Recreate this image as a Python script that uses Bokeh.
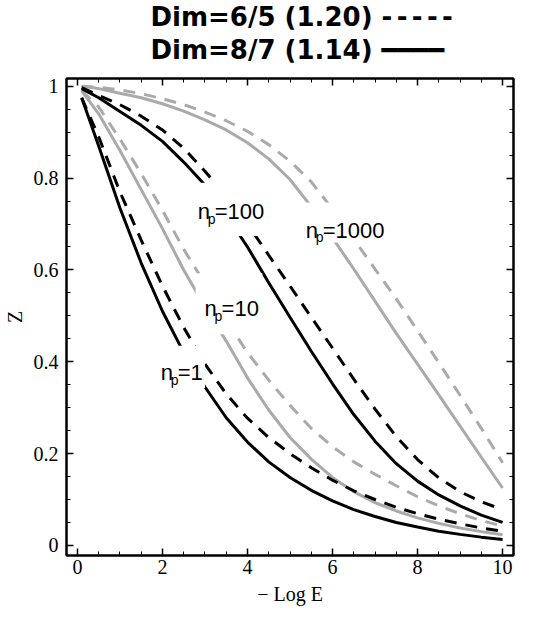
from bokeh.plotting import figure
from bokeh.models import (Range1d, LinearAxis, SingleIntervalTicker, CustomJSTickFormatter,
                          Label, BoxAnnotation, Title)
from bokeh.embed import file_html
from bokeh.resources import INLINE

# ---- data (x = -Log E, y = Z) ----
x = [0.1, 0.5, 1.0, 1.5, 2.0, 2.5, 3.0, 3.5, 4.0, 4.5, 5.0,
     5.5, 6.0, 6.5, 7.0, 7.5, 8.0, 8.5, 9.0, 9.5, 10.0]

# Dim = 8/7 (solid)
z_np1_solid = [0.975, 0.87, 0.735, 0.615, 0.51, 0.42, 0.345, 0.278, 0.225, 0.182, 0.148,
               0.12, 0.097, 0.078, 0.063, 0.05, 0.04, 0.031, 0.024, 0.018, 0.013]
z_np10_solid = [0.99, 0.94, 0.86, 0.775, 0.69, 0.6, 0.52, 0.445, 0.365, 0.295, 0.235,
                0.188, 0.148, 0.117, 0.093, 0.075, 0.06, 0.048, 0.038, 0.03, 0.023]
z_np100_solid = [0.995, 0.975, 0.945, 0.915, 0.88, 0.835, 0.785, 0.72, 0.65, 0.572, 0.497,
                 0.423, 0.352, 0.285, 0.227, 0.178, 0.14, 0.11, 0.086, 0.066, 0.05]
z_np1000_solid = [1.0, 0.995, 0.985, 0.975, 0.962, 0.946, 0.927, 0.905, 0.877, 0.842, 0.797,
                  0.738, 0.67, 0.602, 0.532, 0.462, 0.395, 0.328, 0.26, 0.192, 0.125]

# Dim = 6/5 (dashed)
z_np1_dash = [0.975, 0.89, 0.77, 0.665, 0.565, 0.475, 0.395, 0.33, 0.277, 0.235, 0.2,
              0.169, 0.142, 0.119, 0.1, 0.083, 0.069, 0.057, 0.047, 0.038, 0.031]
z_np10_dash = [0.99, 0.955, 0.885, 0.81, 0.73, 0.645, 0.57, 0.49, 0.42, 0.36, 0.305,
               0.255, 0.215, 0.182, 0.155, 0.13, 0.106, 0.086, 0.069, 0.054, 0.042]
z_np100_dash = [0.997, 0.98, 0.96, 0.935, 0.905, 0.865, 0.815, 0.76, 0.7, 0.632, 0.565,
                0.497, 0.43, 0.362, 0.297, 0.237, 0.187, 0.147, 0.117, 0.095, 0.078]
z_np1000_dash = [1.0, 0.998, 0.992, 0.984, 0.973, 0.96, 0.944, 0.925, 0.902, 0.873, 0.837,
                 0.792, 0.732, 0.667, 0.602, 0.537, 0.468, 0.398, 0.327, 0.255, 0.18]

np_labels = ["1", "10", "100", "1000"]
title_lines = ["Dim=6/5 (1.20) -\u2006-\u2006-\u2006-\u2006-", "Dim=8/7 (1.14) \u2501\u2501\u2501\u2501"]
x_axis_title = "\u2212 Log E"
y_axis_title = "Z"

BLACK = "black"
GRAY = "#aaaaaa"

p = figure(width=541, height=612, output_backend="svg", toolbar_location=None,
           x_range=Range1d(-0.257, 10.257), y_range=Range1d(-0.022, 1.017),
           x_axis_location=None, y_axis_location=None, title_location=None,
           min_border_left=63, min_border_right=28, min_border_top=78, min_border_bottom=57)
p.xgrid.visible = False
p.ygrid.visible = False
p.outline_line_color = "black"
p.outline_line_width = 2
p.background_fill_color = "white"
p.border_fill_color = "white"


def make_axis(interval, show_labels, fmt=None):
    ax = LinearAxis(ticker=SingleIntervalTicker(interval=interval, num_minor_ticks=4))
    ax.axis_line_color = "black"
    ax.axis_line_width = 2
    ax.major_tick_in = 7
    ax.major_tick_out = 0
    ax.minor_tick_in = 4
    ax.minor_tick_out = 0
    ax.major_tick_line_color = "black"
    ax.minor_tick_line_color = "black"
    ax.major_tick_line_width = 1.5
    ax.minor_tick_line_width = 1
    if show_labels:
        ax.major_label_text_font = "Liberation Serif"
        ax.major_label_text_font_size = "20px"
        ax.major_label_text_color = "black"
        ax.major_label_standoff = 8
        if fmt is not None:
            ax.formatter = fmt
    else:
        ax.major_label_text_color = None
        ax.major_label_text_font_size = "0px"
        ax.major_label_standoff = 0
    return ax


yfmt = CustomJSTickFormatter(code="return (Math.round(tick*10)/10).toString();")

xb = make_axis(2, True)
xb.major_label_standoff = 4
xb.axis_label = x_axis_title
xb.axis_label_text_font = "Liberation Serif"
xb.axis_label_text_font_size = "20px"
xb.axis_label_text_font_style = "normal"
xb.axis_label_text_color = "black"
xb.axis_label_standoff = 6
p.add_layout(xb, "below")

yl = make_axis(0.2, True, yfmt)
yl.axis_label = y_axis_title
yl.axis_label_text_font = "Liberation Serif"
yl.axis_label_text_font_size = "20px"
yl.axis_label_text_font_style = "normal"
yl.axis_label_text_color = "black"
yl.axis_label_standoff = 5
p.add_layout(yl, "left")

p.add_layout(make_axis(2, False), "above")
p.add_layout(make_axis(0.2, False), "right")

# ---- two-line title with line-style keys (later = farther from frame) ----
p.add_layout(Title(text=title_lines[1], align="left", offset=84, standoff=28,
                   text_font="DejaVu Sans", text_font_style="bold", text_line_height=1.0,
                   text_font_size="26px", text_color="black"), "above")
p.add_layout(Title(text=title_lines[0], align="left", offset=84, standoff=-26,
                   text_font="DejaVu Sans", text_font_style="bold", text_line_height=1.0,
                   text_font_size="26px", text_color="black"), "above")

# ---- curves ----
LW = 3
DASH = "12 9"
p.line(x, z_np10_solid, line_color=GRAY, line_width=LW)
p.line(x, z_np1000_solid, line_color=GRAY, line_width=LW)
p.line(x, z_np10_dash, line_color=GRAY, line_width=LW, line_dash=DASH)
p.line(x, z_np1000_dash, line_color=GRAY, line_width=LW, line_dash=DASH)
p.line(x, z_np1_solid, line_color=BLACK, line_width=LW)
p.line(x, z_np100_solid, line_color=BLACK, line_width=LW)
p.line(x, z_np1_dash, line_color=BLACK, line_width=LW, line_dash=DASH)
p.line(x, z_np100_dash, line_color=BLACK, line_width=LW, line_dash=DASH)

# ---- curve labels with white backgrounds ----
boxes = [(1.9, 3.0, 0.343, 0.435), (2.78, 4.35, 0.46, 0.593),
         (2.78, 4.5, 0.674, 0.79), (5.3, 7.35, 0.66, 0.747)]
label_pos = [(1.96, 0.376), (2.99, 0.516), (2.83, 0.727), (5.37, 0.687)]
for (l, r, b, t) in boxes:
    p.add_layout(BoxAnnotation(left=l, right=r, bottom=b, top=t, fill_color="white",
                               fill_alpha=1.0, line_alpha=0, level="annotation"))
for txt, (lx, ly) in zip(np_labels, label_pos):
    common = dict(x=lx, y=ly, text_font="Liberation Sans", text_color="black",
                  text_baseline="alphabetic", text_align="left")
    p.add_layout(Label(text="n", text_font_size="22px", **common))
    p.add_layout(Label(text="p", text_font_size="14px", x_offset=10, y_offset=-7, **common))
    p.add_layout(Label(text="=" + txt, text_font_size="22px", x_offset=17, **common))

open("out.html", "w").write(file_html(p, INLINE))
